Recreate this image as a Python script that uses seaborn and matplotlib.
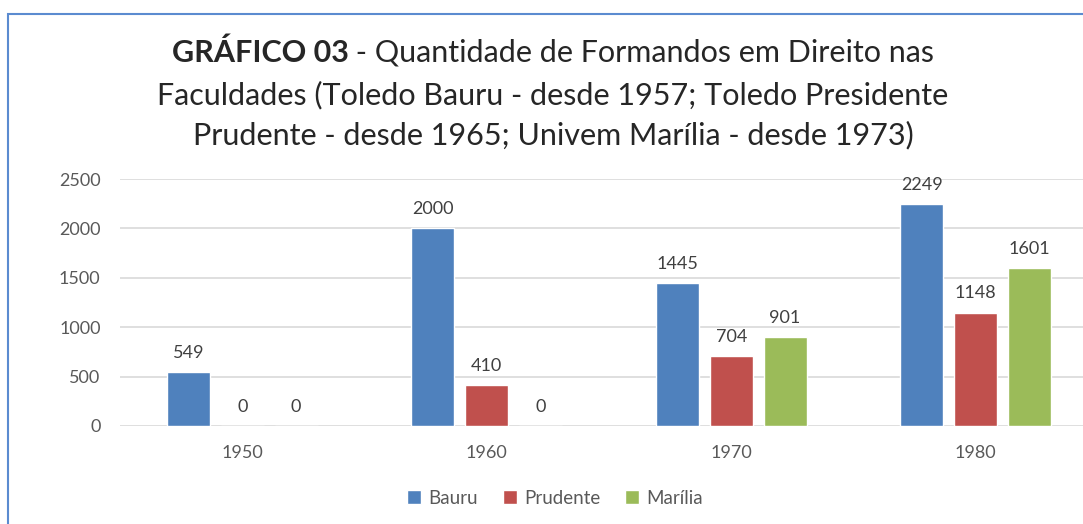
import matplotlib
matplotlib.use("Agg")
import matplotlib.pyplot as plt
import matplotlib.patches as mpatches
import seaborn as sns
import pandas as pd

decades = ["1950", "1960", "1970", "1980"]
series = ["Bauru", "Prudente", "Marília"]
bauru = [549, 2000, 1445, 2249]
prudente = [0, 410, 704, 1148]
marilia = [0, 0, 901, 1601]
colors = ["#4f81bd", "#c0504d", "#9bbb59"]
yticks = [0, 500, 1000, 1500, 2000, 2500]
title_bold = "GRÁFICO 03"
title_rest = " - Quantidade de Formandos em Direito nas"
title_line2 = "Faculdades (Toledo Bauru - desde 1957; Toledo Presidente"
title_line3 = "Prudente - desde 1965; Univem Marília - desde 1973)"

sns.set_style("white")
plt.rcParams["font.family"] = ["Lato", "DejaVu Sans"]

rows = []
for name, vals in zip(series, [bauru, prudente, marilia]):
    for d, v in zip(decades, vals):
        rows.append({"Década": d, "Série": name, "Valor": v})
df = pd.DataFrame(rows)

W, H = 1083, 524
fig = plt.figure(figsize=(W / 100, H / 100), dpi=100)
ax = fig.add_axes([120 / W, (H - 426) / H, (1098 - 120) / W, 247 / H])

sns.barplot(data=df, x="Década", y="Valor", hue="Série", hue_order=series,
            order=decades, palette=colors, width=0.66, gap=0.2, ax=ax,
            saturation=1, errorbar=None)

ax.set_xlim(-0.5, 3.5)
ax.set_ylim(0, 2500)
ax.set_yticks(yticks)
ax.set_xlabel("")
ax.set_ylabel("")
for s in ax.spines.values():
    s.set_visible(False)
ax.grid(axis="y", color="#d9d9d9", lw=1.2)
ax.set_axisbelow(True)
ax.tick_params(axis="both", length=0, labelsize=13, colors="#595959")
ax.tick_params(axis="y", pad=14)
ax.tick_params(axis="x", pad=14)

for c in ax.containers:
    ax.bar_label(c, fmt="%d", padding=8, fontsize=13, color="#404040")

leg = ax.legend(loc="center", bbox_to_anchor=(555 / W, 1 - 498 / H),
                bbox_transform=fig.transFigure, ncol=3, frameon=False,
                fontsize=13.5, handlelength=0.75, handleheight=0.75,
                handletextpad=0.4, columnspacing=1.3)
for t in leg.get_texts():
    t.set_color("#595959")

# Title
cx = 553 / W
fs = 22
fig.canvas.draw()
r = fig.canvas.get_renderer()
tb = fig.text(0, 1 - 53 / H, title_bold, fontsize=fs, fontweight="bold", va="center", ha="left")
tr = fig.text(0, 1 - 53 / H, title_rest, fontsize=fs, va="center", ha="left")
wb = tb.get_window_extent(r).width
wr = tr.get_window_extent(r).width
x0 = (553 - (wb + wr) / 2) / W
tb.set_x(x0)
tr.set_x(x0 + wb / W)
fig.text(cx, 1 - 95 / H, title_line2, fontsize=fs, va="center", ha="center")
fig.text(cx, 1 - 135 / H, title_line3, fontsize=fs, va="center", ha="center")

rect = mpatches.Rectangle((8 / W, -0.1), 1.2, 1 - 14 / H + 0.1, transform=fig.transFigure,
                          fill=False, edgecolor="#5b8bd0", lw=1.5)
fig.patches.append(rect)

fig.savefig("out.png", dpi=100)
